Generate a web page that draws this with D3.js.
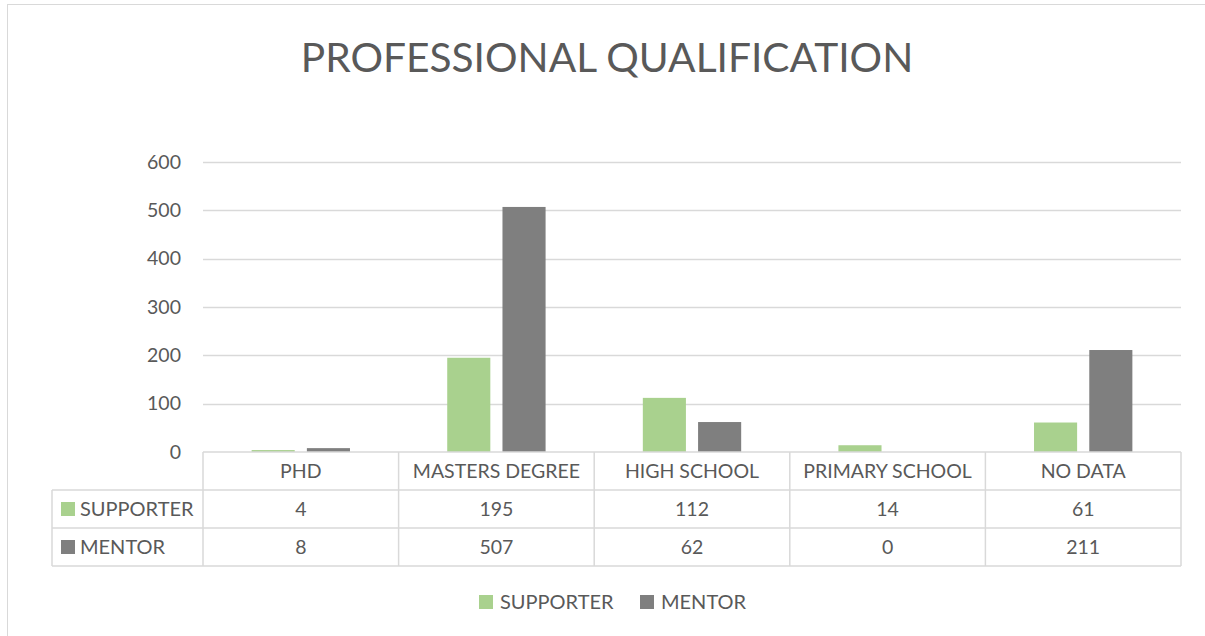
<!DOCTYPE html>
<html>
<head>
<meta charset="utf-8">
<script src="https://cdn.jsdelivr.net/npm/d3@7"></script>
<style>
  body { margin: 0; background: #fff; }
  svg text { font-family: Lato, "Open Sans", sans-serif; fill: #595959; }
</style>
</head>
<body>
<svg id="chart" width="1205" height="636"></svg>
<script>
var categories = ["PHD", "MASTERS DEGREE", "HIGH SCHOOL", "PRIMARY SCHOOL", "NO DATA"];
var seriesNames = ["SUPPORTER", "MENTOR"];
var supporter = [4, 195, 112, 14, 61];
var mentor = [8, 507, 62, 0, 211];
var yTicks = [0, 100, 200, 300, 400, 500, 600];
var colors = ["#A9D18E", "#7F7F7F"];

var seriesValues = [supporter, mentor];
var svg = d3.select("#chart");

// outer frame
svg.append("rect").attr("x", 7.5).attr("y", 4.5).attr("width", 1210).attr("height", 650)
  .attr("fill", "none").attr("stroke", "#d9d9d9").attr("stroke-width", 1);

// title
svg.append("text").attr("x", 607).attr("y", 72).attr("text-anchor", "middle")
  .attr("font-size", 40.7).text("PROFESSIONAL QUALIFICATION");

var plotLeft = 203, plotRight = 1181, plotTop = 162, plotBottom = 452;
var x = d3.scaleBand().domain(categories).range([plotLeft, plotRight]);
var x1 = d3.scaleBand().domain(seriesNames).range([0, x.bandwidth()]).paddingInner(0.22).paddingOuter(0.88);
var y = d3.scaleLinear().domain([0, 600]).range([plotBottom, plotTop]);

// gridlines
svg.append("g").selectAll("line").data(yTicks.filter(function(d) { return d > 0; })).enter()
  .append("line").attr("x1", plotLeft).attr("x2", plotRight)
  .attr("y1", function(d) { return Math.round(y(d)) + 0.5; })
  .attr("y2", function(d) { return Math.round(y(d)) + 0.5; })
  .attr("stroke", "#d9d9d9").attr("stroke-width", 1.3);

// y labels
svg.append("g").selectAll("text").data(yTicks).enter()
  .append("text").attr("x", 181).attr("y", function(d) { return y(d); })
  .attr("dy", "0.35em").attr("text-anchor", "end").attr("font-size", 19.5)
  .text(function(d) { return d; });

// bars
var groups = svg.append("g").selectAll("g").data(categories).enter()
  .append("g").attr("transform", function(d) { return "translate(" + x(d) + ",0)"; });
groups.selectAll("rect").data(function(d, i) {
    return seriesNames.map(function(s, j) { return { s: s, v: seriesValues[j][i], c: colors[j] }; });
  }).enter()
  .append("rect").attr("x", function(d) { return x1(d.s); }).attr("width", x1.bandwidth())
  .attr("y", function(d) { return y(d.v); })
  .attr("height", function(d) { return plotBottom - y(d.v); })
  .attr("fill", function(d) { return d.c; });

// data table
var tableLeft = 52, rowH = 38;
var rowsY = [plotBottom, plotBottom + rowH, plotBottom + rowH * 2, plotBottom + rowH * 3];
var tg = svg.append("g").attr("stroke", "#d9d9d9").attr("stroke-width", 1.5);
// horizontal lines
tg.append("line").attr("x1", plotLeft).attr("x2", plotRight).attr("y1", rowsY[0]).attr("y2", rowsY[0]);
for (var r = 1; r < 4; r++) {
  tg.append("line").attr("x1", tableLeft).attr("x2", plotRight).attr("y1", rowsY[r]).attr("y2", rowsY[r]);
}
// vertical lines
tg.append("line").attr("x1", tableLeft).attr("x2", tableLeft).attr("y1", rowsY[1]).attr("y2", rowsY[3]);
categories.concat(["_end"]).forEach(function(c, i) {
  var xx = i < categories.length ? x(c) : plotRight;
  tg.append("line").attr("x1", xx).attr("x2", xx).attr("y1", rowsY[0]).attr("y2", rowsY[3]);
});

// header text
svg.append("g").selectAll("text").data(categories).enter()
  .append("text").attr("x", function(d) { return x(d) + x.bandwidth() / 2; })
  .attr("y", (rowsY[0] + rowsY[1]) / 2).attr("dy", "0.35em").attr("text-anchor", "middle")
  .attr("font-size", 19.5).text(function(d) { return d; });

// rows
seriesNames.forEach(function(s, j) {
  var cy = (rowsY[j + 1] + rowsY[j + 2]) / 2;
  svg.append("rect").attr("x", 61).attr("y", cy - 7).attr("width", 14).attr("height", 14).attr("fill", colors[j]);
  svg.append("text").attr("x", 80).attr("y", cy).attr("dy", "0.35em").attr("font-size", 20).text(s);
  svg.append("g").selectAll("text").data(seriesValues[j]).enter()
    .append("text").attr("x", function(d, i) { return x(categories[i]) + x.bandwidth() / 2; })
    .attr("y", cy).attr("dy", "0.35em").attr("text-anchor", "middle").attr("font-size", 19.5)
    .text(function(d) { return d; });
});

// legend
var legendX = [479, 640];
seriesNames.forEach(function(s, j) {
  svg.append("rect").attr("x", legendX[j]).attr("y", 595).attr("width", 14).attr("height", 14).attr("fill", colors[j]);
  svg.append("text").attr("x", legendX[j] + 21).attr("y", 602).attr("dy", "0.35em").attr("font-size", 20).text(s);
});
</script>
</body>
</html>
